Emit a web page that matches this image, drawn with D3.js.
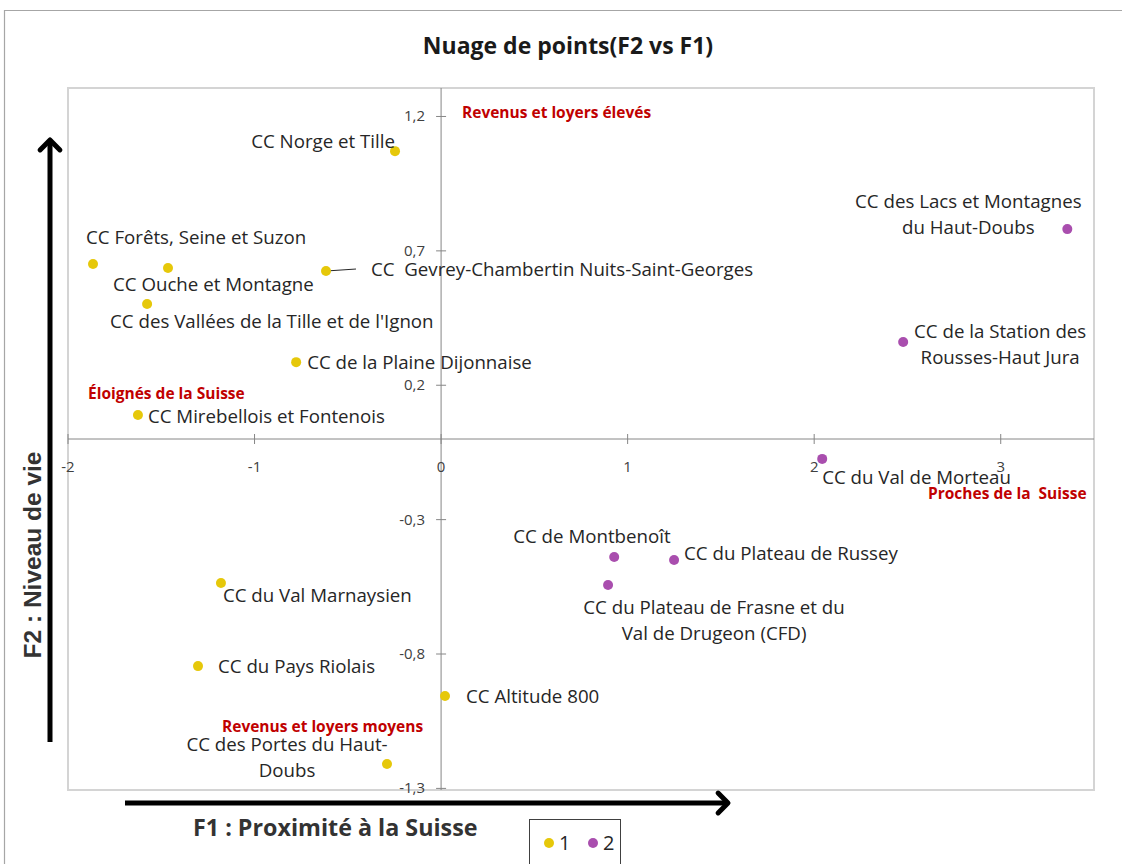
<!DOCTYPE html>
<html>
<head>
<meta charset="utf-8">
<script src="https://cdn.jsdelivr.net/npm/d3@7"></script>
<style>
  body { margin: 0; background: #fff; }
  svg { display: block; }
  .lbl { font-family: "Open Sans", sans-serif; font-size: 18.7px; fill: #262626; }
  .tick { font-family: "Open Sans", sans-serif; font-size: 15px; fill: #404040; }
  .note { font-family: "Open Sans", sans-serif; font-size: 15.5px; font-weight: 700; fill: #c00000; }
</style>
</head>
<body>
<div id="chart"></div>
<script>
// Nuage de points (F2 vs F1) - ACP des communautés de communes

var names = [
  "CC Norge et Tille",
  "CC Forêts, Seine et Suzon",
  "CC Ouche et Montagne",
  "CC  Gevrey-Chambertin Nuits-Saint-Georges",
  "CC des Vallées de la Tille et de l'Ignon",
  "CC de la Plaine Dijonnaise",
  "CC Mirebellois et Fontenois",
  "CC du Val Marnaysien",
  "CC du Pays Riolais",
  "CC Altitude 800",
  "CC des Portes du Haut-\nDoubs",
  "CC des Lacs et Montagnes\ndu Haut-Doubs",
  "CC de la Station des\nRousses-Haut Jura",
  "CC du Val de Morteau",
  "CC de Montbenoît",
  "CC du Plateau de Russey",
  "CC du Plateau de Frasne et du\nVal de Drugeon (CFD)"
];
var f1 = [-0.247, -1.866, -1.464, -0.617, -1.576, -0.777, -1.625, -1.180, -1.303, 0.021, -0.290,
          3.357, 2.477, 2.043, 0.928, 1.249, 0.895];
var f2 = [1.071, 0.651, 0.636, 0.625, 0.502, 0.286, 0.089, -0.536, -0.845, -0.956, -1.209,
          0.781, 0.361, -0.074, -0.439, -0.450, -0.543];
var groups = [1, 1, 1, 1, 1, 1, 1, 1, 1, 1, 1, 2, 2, 2, 2, 2, 2];

var xTicks = [-2, -1, 0, 1, 2, 3];
var yTicks = [1.2, 0.7, 0.2, -0.3, -0.8, -1.3];
var legendKeys = [1, 2];

var title = "Nuage de points(F2 vs F1)";
var xTitle = "F1 : Proximité à la Suisse";
var yTitle = "F2 : Niveau de vie";
var notes = ["Revenus et loyers élevés", "Éloignés de la Suisse", "Proches de la  Suisse", "Revenus et loyers moyens"];

var WIDTH = 1122;
var HEIGHT = 864;

var PLOT_L = 68, PLOT_R = 1094, PLOT_T = 88, PLOT_B = 790;
var COLORS = { 1: "#e6c80a", 2: "#a94eae" };
var R = 5;
var LINE_H = 26;

// label placement relative to each point: [dx, dy (baseline), anchor]
var labelPos = [
  [0, -3, "end"], [-7, -20, "start"], [-55, 23, "start"], [45, 5, "start"],
  [-37, 24, "start"], [11, 7, "start"], [10, 8, "start"], [2, 19, "start"],
  [20, 7, "start"], [21, 7, "start"], [-100, -13, "middle"], [-99, -21, "middle"],
  [97, -4, "middle"], [0, 25, "start"], [-101, -14, "start"], [10, 0, "start"],
  [106, 29, "middle"]
];

// note positions in pixels (x, baseline)
var notePos = [[462, 118], [88, 399], [928, 499], [222, 732]];

var x = d3.scaleLinear().domain([-2, 3.5]).range([PLOT_L, PLOT_R]);
var y = d3.scaleLinear().domain([-1.3, 1.3]).range([788.4, 89.6]);

var svg = d3.select("#chart").append("svg")
    .attr("width", WIDTH)
    .attr("height", HEIGHT);

// outer frame
svg.append("path")
    .attr("d", "M4.5," + HEIGHT + " V10.5 H" + WIDTH)
    .attr("fill", "none")
    .attr("stroke", "#a6a6a6")
    .attr("stroke-width", 1.2);

// plot box
svg.append("rect")
    .attr("x", PLOT_L).attr("y", PLOT_T)
    .attr("width", PLOT_R - PLOT_L).attr("height", PLOT_B - PLOT_T)
    .attr("fill", "none")
    .attr("stroke", "#d4d4d4")
    .attr("stroke-width", 2);

svg.append("text")
    .attr("x", 568).attr("y", 54)
    .attr("text-anchor", "middle")
    .style("font-family", "'Open Sans', sans-serif")
    .style("font-size", "23px")
    .style("font-weight", 700)
    .style("fill", "#1a1a1a")
    .text(title);

// axes crossing at 0
var axisColor = "#868686";
var x0 = x(0), y0 = y(0);

svg.append("line")
    .attr("x1", PLOT_L).attr("x2", PLOT_R)
    .attr("y1", y0).attr("y2", y0)
    .attr("stroke", axisColor);
svg.append("line")
    .attr("x1", x0).attr("x2", x0)
    .attr("y1", PLOT_T).attr("y2", PLOT_B)
    .attr("stroke", axisColor);

var xt = svg.append("g").selectAll("g").data(xTicks).enter().append("g");
xt.append("line")
    .attr("x1", function(d) { return x(d); })
    .attr("x2", function(d) { return x(d); })
    .attr("y1", y0 - 5).attr("y2", y0 + 5)
    .attr("stroke", axisColor);
xt.append("text")
    .attr("class", "tick")
    .attr("x", function(d) { return x(d); })
    .attr("y", y0 + 33)
    .attr("text-anchor", "middle")
    .text(function(d) { return d < 0 ? "-" + Math.abs(d) : d; });

var yt = svg.append("g").selectAll("g").data(yTicks).enter().append("g");
yt.append("line")
    .attr("x1", x0 - 5).attr("x2", x0 + 5)
    .attr("y1", function(d) { return y(d); })
    .attr("y2", function(d) { return y(d); })
    .attr("stroke", axisColor);
yt.append("text")
    .attr("class", "tick")
    .attr("x", x0 - 16)
    .attr("y", function(d) { return y(d) + 5; })
    .attr("text-anchor", "end")
    .text(function(d) { return String(d).replace(".", ","); });

// leader line for Gevrey-Chambertin
svg.append("line")
    .attr("x1", x(f1[3])).attr("y1", y(f2[3]))
    .attr("x2", x(f1[3]) + 30).attr("y2", y(f2[3]) - 2)
    .attr("stroke", "#262626").attr("stroke-width", 1);

var idx = d3.range(names.length);

svg.append("g").selectAll("circle")
    .data(idx)
    .enter().append("circle")
    .attr("cx", function(i) { return x(f1[i]); })
    .attr("cy", function(i) { return y(f2[i]); })
    .attr("r", R)
    .attr("fill", function(i) { return COLORS[groups[i]]; });

svg.append("g").selectAll("text")
    .data(idx)
    .enter().append("text")
    .attr("class", "lbl")
    .attr("text-anchor", function(i) { return labelPos[i][2]; })
    .each(function(i) {
        var lines = names[i].split("\n");
        var px = x(f1[i]) + labelPos[i][0];
        var py = y(f2[i]) + labelPos[i][1];
        for (var l = 0; l < lines.length; l++) {
            d3.select(this).append("tspan")
                .attr("x", px)
                .attr("y", py + l * LINE_H)
                .style("white-space", "pre")
                .text(lines[l]);
        }
    });

svg.append("g").selectAll("text")
    .data(notes)
    .enter().append("text")
    .attr("class", "note")
    .attr("x", function(d, i) { return notePos[i][0]; })
    .attr("y", function(d, i) { return notePos[i][1]; })
    .style("white-space", "pre")
    .text(function(d) { return d; });

// big arrows for axis meaning
function arrow(x1, y1, x2, y2) {
    svg.append("line")
        .attr("x1", x1).attr("y1", y1).attr("x2", x2).attr("y2", y2)
        .attr("stroke", "#000").attr("stroke-width", 5);
    var ang = Math.atan2(y2 - y1, x2 - x1);
    var s = 14;
    var a1 = ang + Math.PI * 0.75, a2 = ang - Math.PI * 0.75;
    svg.append("path")
        .attr("d", "M" + (x2 + s * Math.cos(a1)) + "," + (y2 + s * Math.sin(a1)) +
                   " L" + x2 + "," + y2 +
                   " L" + (x2 + s * Math.cos(a2)) + "," + (y2 + s * Math.sin(a2)))
        .attr("fill", "none")
        .attr("stroke", "#000")
        .attr("stroke-width", 5)
        .attr("stroke-linecap", "round")
        .attr("stroke-linejoin", "round");
}
arrow(50, 742, 50, 140);
arrow(125, 803, 728, 803);

svg.append("text")
    .attr("transform", "translate(41,555) rotate(-90)")
    .attr("text-anchor", "middle")
    .style("font-family", "'Liberation Sans', Arial, sans-serif")
    .style("font-size", "24.5px")
    .style("font-weight", 700)
    .style("fill", "#333")
    .text(yTitle);

svg.append("text")
    .attr("x", 193).attr("y", 836)
    .style("font-family", "'Open Sans', sans-serif")
    .style("font-size", "23.3px")
    .style("font-weight", 700)
    .style("fill", "#333")
    .text(xTitle);

// legend
var lg = svg.append("g");
lg.append("rect")
    .attr("x", 529.5).attr("y", 819.5)
    .attr("width", 91).attr("height", 50)
    .attr("fill", "#fff")
    .attr("stroke", "#404040");
var items = lg.selectAll("g").data(legendKeys).enter().append("g")
    .attr("transform", function(d, i) { return "translate(" + (549 + i * 44) + ",843)"; });
items.append("circle")
    .attr("r", R)
    .attr("fill", function(d) { return COLORS[d]; });
items.append("text")
    .attr("x", 10).attr("y", 7)
    .style("font-family", "'Open Sans', sans-serif")
    .style("font-size", "20px")
    .style("fill", "#262626")
    .text(function(d) { return d; });
</script>
</body>
</html>
